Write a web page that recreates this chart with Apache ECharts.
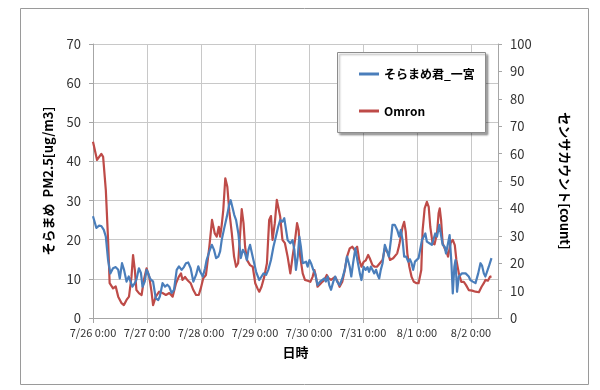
<!DOCTYPE html>
<html><head><meta charset="utf-8">
<script src="https://cdn.jsdelivr.net/npm/echarts@6/dist/echarts.min.js"></script>
<style>html,body{margin:0;padding:0;background:#fff}#c{width:600px;height:390px}</style>
</head><body><div id="c"></div>
<script>
const tickLabels = ['7/26 0:00','7/27 0:00','7/28 0:00','7/29 0:00','7/30 0:00','7/31 0:00','8/1 0:00','8/2 0:00'];
const seriesNames = ['そらまめ君_一宮','Omron'];
// hours since 7/26 0:00
const blueHours = [0,1.5,2.7,3.7,4.8,5.7,6.7,7.7,8.9,10.1,11.2,11.9,12.9,13.8,14.9,15.9,16.7,17.5,18.6,19.3,20.4,21.3,22,23,23.8,24.5,25.3,26,26.7,27.9,29,29.7,30.9,32,33,33.9,34.9,36,37.2,38.2,39.4,40.4,41.3,42.3,43.4,44.6,45.8,46.8,47.6,48.8,49.8,50.5,51.7,52.8,53.8,54.7,55.7,56.5,57.2,58.3,59.5,60.5,61.2,62.1,62.8,63.6,64.6,65.7,66.6,67.5,68.4,69.1,69.8,70.6,71.3,72.5,73.9,74.9,75.8,76.9,77.9,79.1,80.2,81.3,82.3,83.2,84.2,85,85.8,86.5,87.7,88.7,89.5,90.2,91,91.7,92.4,93.2,93.9,94.7,95.4,96.2,96.9,97.9,98.7,99.8,100.9,101.8,102.8,103.5,104.3,105,105.8,106.8,107.6,108.5,109.6,110.8,111.9,112.9,114.1,114.8,115.6,116.6,117.5,118.6,119.3,120.3,121.2,122,122.7,123.5,124.2,125,125.8,126.5,127.2,127.9,128.7,129.7,130.5,131.5,132.4,133.1,134.1,135.2,136.1,136.8,137.6,138.3,139.2,140.1,140.9,141.6,142.3,143.1,143.8,144.7,145.5,146.2,147.7,148.4,149.5,150.6,151.4,152.1,152.9,153.9,154.6,155.4,156.3,156.9,157.8,158.5,159.3,159.9,160.6,161.1,161.8,162.6,163.3,164,164.8,165.6,166.3,167,167.7,168.8,170,171.2,172.2,172.9,173.7,174.4,175.2,175.9,177.1];
const blueValues = [26,23,23.6,23.5,22.5,20.8,14.8,11.4,12.7,13,12.3,10.1,14,12.3,9.3,10.6,9.3,8,8.9,9.8,12.7,11.5,8,9.3,12.3,11.5,10.1,10.6,9.3,5,4.6,5.5,8.9,8,8.5,8,6.4,7.2,12.3,13.2,12.3,13,14,14.2,12.7,9.3,11,13.2,11.9,10.6,12.7,14.8,17,18.7,17.4,15.3,15.7,17,19.9,22.9,25.9,28.9,30.1,28,26.3,25,21.6,15.3,17.4,16.6,14.8,17.4,18.7,16.6,14.8,11.8,9.7,10.6,11.4,11,12.3,14.8,18.2,20.8,23.3,25,24.6,25.5,25.9,19.9,19.1,19.9,17.4,12.3,15.7,20.8,18.2,14,13.6,14.4,13.1,14.8,14,12.3,11.4,8.4,9.3,9.7,10.1,9.3,10.6,8.4,7.2,9.3,10.6,9.3,8.4,10.1,12.3,15.7,13.1,10.6,14,17.8,14.8,11.4,9.7,13.1,12.3,13,11.8,13.1,12.3,11.4,12.3,11,10.1,12.3,14,18.7,17.4,15.7,19.9,23.8,23.8,22.5,20.8,22.5,19.9,15.7,15.7,14.4,15,14,12.3,14.4,14.8,15.3,15.7,19.9,21.6,19.5,19.1,18.7,18.2,21.6,20.8,23.8,23.5,18.7,18.2,16.5,19.1,21.2,14,6.3,13.1,14.8,6.7,10.6,10.2,11.4,11.8,11.4,11.8,10.6,9.7,9.3,8.9,11.4,14,13.4,11.4,10.6,10.8,13.1,15.3];
const redHours = [0,1.8,3.7,4.5,5.7,6.7,7.4,8.9,10.1,11.2,12.7,13.7,14.9,16,17.1,17.8,18.6,19.3,20.5,21.6,22.6,23.8,25,26,26.7,27.9,29.4,30.9,32.4,33.9,35.4,36.9,38.1,39.1,39.8,40.9,41.9,43.4,44.6,45.8,47,47.9,49,50.2,51.7,52.9,54.1,55,55.9,56.5,57.2,57.9,58.8,59.7,60.6,61.7,62.7,63.6,64.5,65.4,66.1,66.9,67.6,68.4,69.8,71,72.1,73.1,73.9,74.9,76.1,77.3,78.3,79.1,79.8,80.8,81.7,82.5,83.2,84.2,85.3,86.5,87.7,88.7,89.8,90.7,91.4,92.1,93.2,94.2,95.4,96.6,97.6,98.4,99.1,99.8,100.9,101.9,102.8,103.9,104.6,105.8,106.5,107.6,108.6,109.6,110.8,111.9,112.9,114.1,115.3,116.3,117.4,118.3,119.3,120.3,121.2,122.3,123,124.2,125.2,126.2,127.5,128.7,129.7,130.5,131.2,132,132.7,133.4,134.2,135.2,136.1,136.8,137.6,138.3,139,139.7,140.6,141.6,142.6,143.8,144.7,145.9,146.5,147.4,148.4,149.2,149.9,150.9,151.8,152.9,153.6,154.1,154.7,155.4,156.3,157.1,157.8,158.9,159.9,160.8,161.5,162.6,163.7,164.8,165.8,167,168.5,170,171.5,172.7,173.7,174.4,175.5,176.4,177.1];
const redValues = [64.3,57.7,59.9,58.8,46.7,28.5,12.7,10.8,11.5,7.8,5.4,4.7,6.6,7.8,15,23,17.5,10.2,9,8.4,13.9,18.1,15,9.6,4.7,7.8,9.6,9.1,8.4,9.1,7.8,12.7,15,16.3,13.9,15,13.9,12.7,10.2,8.4,8.4,10.8,14.5,15.7,26,35.8,30.9,29.7,33.3,29.7,33.9,39.4,51,47.9,38.8,30.9,22.4,18.7,20,30.9,39.7,34.6,26,21.2,19.3,18.7,12.7,10.8,9.6,11.4,15,20,35.8,37.2,28.5,34.6,43.1,42.6,37,28.5,27.3,22.4,16.3,22.4,28.5,34.6,32.1,22.4,16.3,13.9,13.6,13.2,15,17.5,15,11.4,12.3,13.2,13.9,15.7,14.6,13.9,13.2,15,13.5,11.4,13.2,17.5,22.4,25.4,26,24.8,26,21.2,18.7,20.5,21,23,21.8,19.3,18.7,18.7,20,21.2,25.4,26,23.6,21.2,20.5,21.8,21.2,23.6,26.6,29.7,33.3,35.1,31.5,23.6,18.7,15,13.2,12.7,12.7,17.5,32.1,40,42.4,40.6,33.3,27.3,26.9,30.9,38.2,40,35.8,27.3,25.4,24.2,22.4,27.3,28.5,26.6,21.2,16.3,13.2,13.2,12,10.2,10,9.6,9.4,11.4,12.7,13.9,13.6,15,15.2];

const zip = (xs, ys) => xs.map((x, i) => [x, ys[i]]);
const FONT = "'Noto Sans CJK JP', 'Noto Sans', sans-serif";
const GRIDC = '#c8c8c8';
const chart = echarts.init(document.getElementById('c'), null, {renderer: 'canvas'});
chart.setOption({
  animation: false,
  backgroundColor: '#fff',
  textStyle: {fontFamily: FONT},
  grid: {left: 93, right: 102, top: 44, bottom: 72, containLabel: false},
  graphic: [
    {type: 'rect', left: 18, top: 6, shape: {width: 568, height: 376}, style: {fill: 'none', stroke: '#9a9a9a', lineWidth: 1}, z: -10},
    {type: 'rect', left: 337, top: 52, shape: {width: 148, height: 80}, style: {fill: '#fff', stroke: '#8c8c8c', lineWidth: 1, shadowBlur: 2, shadowOffsetX: 2, shadowOffsetY: 2, shadowColor: 'rgba(0,0,0,0.35)'}, z: 50}
  ],
  legend: {
    orient: 'vertical', left: 354, top: 63, itemGap: 25, itemWidth: 20, itemHeight: 3, icon: 'rect',
    textStyle: {fontFamily: FONT, fontSize: 12, fontWeight: 'bold', color: '#000'},
    data: seriesNames, z: 60
  },
  xAxis: {
    type: 'value', min: 0, max: 180, interval: 24,
    name: '日時', nameLocation: 'middle', nameGap: 28,
    nameTextStyle: {fontFamily: FONT, fontSize: 13, fontWeight: 'bold', color: '#000'},
    axisLine: {lineStyle: {color: '#a6a6a6'}},
    axisTick: {show: true, length: 5, lineStyle: {color: '#a6a6a6'}},
    splitLine: {show: true, lineStyle: {color: GRIDC, width: 1}},
    axisLabel: {
      showMaxLabel: false, fontSize: 11, color: '#333', fontFamily: FONT, margin: 9,
      formatter: v => { const i = v / 24; return Number.isInteger(i) && tickLabels[i] ? tickLabels[i] : ''; }
    }
  },
  yAxis: [
    {
      type: 'value', min: 0, max: 70, interval: 10, position: 'left',
      name: 'そらまめ  PM2.5[ug/m3]', nameLocation: 'middle', nameGap: 38, nameRotate: 90,
      nameTextStyle: {fontFamily: FONT, fontSize: 13, fontWeight: 'bold', color: '#000'},
      axisLine: {show: true, lineStyle: {color: '#a6a6a6'}},
      axisTick: {show: true, length: 4, lineStyle: {color: '#a6a6a6'}},
      splitLine: {show: true, lineStyle: {color: GRIDC, width: 1}},
      axisLabel: {fontSize: 13, color: '#333', margin: 12, fontFamily: FONT}
    },
    {
      type: 'value', min: 0, max: 100, interval: 10, position: 'right',
      name: 'センサカウント[count]', nameLocation: 'middle', nameGap: 60, nameRotate: -90,
      nameTextStyle: {fontFamily: FONT, fontSize: 13, fontWeight: 'bold', color: '#000'},
      axisLine: {show: true, lineStyle: {color: '#a6a6a6'}},
      axisTick: {show: true, length: 4, lineStyle: {color: '#a6a6a6'}},
      splitLine: {show: false},
      axisLabel: {fontSize: 13, color: '#333', margin: 12, fontFamily: FONT}
    }
  ],
  series: [
    {name: seriesNames[0], type: 'line', yAxisIndex: 0, data: zip(blueHours, blueValues), showSymbol: false, symbol: 'none',
     lineStyle: {color: '#4a7ebb', width: 2.2, join: 'round'}, itemStyle: {color: '#4a7ebb'}, z: 3},
    {name: seriesNames[1], type: 'line', yAxisIndex: 1, data: zip(redHours, redValues), showSymbol: false, symbol: 'none',
     lineStyle: {color: '#be4b48', width: 2.2, join: 'round'}, itemStyle: {color: '#be4b48'}, z: 2}
  ]
});
</script></body></html>
